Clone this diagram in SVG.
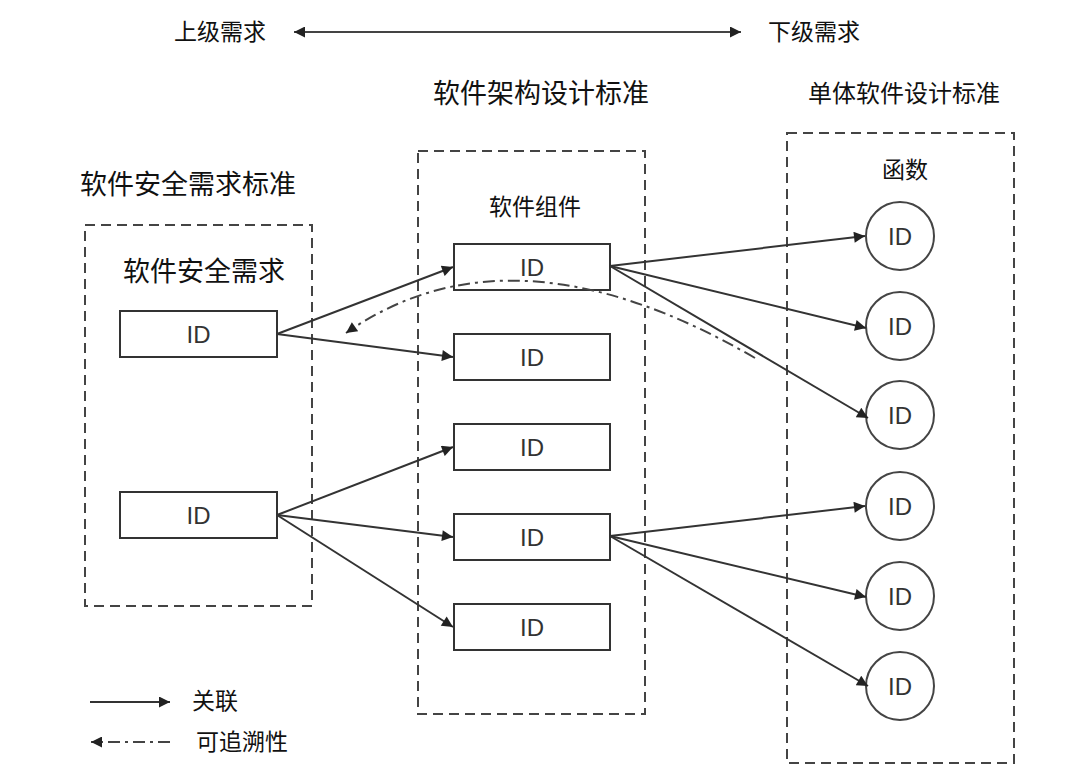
<svg xmlns="http://www.w3.org/2000/svg" width="1080" height="775" viewBox="0 0 1080 775">
<defs>
<style>
.t{font-family:"Noto Sans CJK SC","Liberation Sans",sans-serif;fill:#111;}
.h{font-size:27px;}
.m{font-size:24px;}
.s{font-size:23px;}
.id{font-family:"Liberation Sans",Arial,sans-serif;font-size:24px;fill:#333;text-anchor:middle;}
.box{fill:#fff;stroke:#333;stroke-width:2;}
.circ{fill:#fff;stroke:#444;stroke-width:2;}
.grp{fill:none;stroke:#444;stroke-width:2;stroke-dasharray:10,6;}
.ln{stroke:#333;stroke-width:2;fill:none;marker-end:url(#ah);}
.dd{stroke:#444;stroke-width:2;fill:none;stroke-dasharray:12,5,3,5;}
</style>
<marker id="ah" viewBox="0 0 10 10" refX="10" refY="5" markerWidth="13" markerHeight="11" markerUnits="userSpaceOnUse" orient="auto-start-reverse"><path d="M0,0L10,5L0,10z" fill="#222"/></marker>
</defs>
<rect width="1080" height="775" fill="#fff"/>

<g id="scale">
<text class="t s" x="174" y="40">上级需求</text>
<line x1="294" y1="32" x2="741" y2="32" stroke="#444" stroke-width="2" marker-start="url(#ah)" marker-end="url(#ah)"/>
<text class="t s" x="768" y="40">下级需求</text>
</g>

<g id="group-left">
<text class="t h" x="80" y="194">软件安全需求标准</text>
<rect class="grp" x="85" y="225" width="227" height="381"/>
<text class="t h" x="123" y="281">软件安全需求</text>
</g>
<g id="req1"><rect class="box" x="120" y="311" width="157" height="46"/><text class="id" x="198.5" y="343">ID</text></g>
<g id="req2"><rect class="box" x="120" y="492" width="157" height="46"/><text class="id" x="198.5" y="524">ID</text></g>

<g id="group-mid">
<text class="t h" x="433" y="103">软件架构设计标准</text>
<rect class="grp" x="418" y="151" width="227" height="563"/>
<text class="t s" x="489" y="215">软件组件</text>
</g>
<g id="comp1"><rect class="box" x="454" y="244" width="156" height="46"/><text class="id" x="532" y="276">ID</text></g>
<g id="comp2"><rect class="box" x="454" y="334" width="156" height="46"/><text class="id" x="532" y="366">ID</text></g>
<g id="comp3"><rect class="box" x="454" y="424" width="156" height="46"/><text class="id" x="532" y="456">ID</text></g>
<g id="comp4"><rect class="box" x="454" y="514" width="156" height="46"/><text class="id" x="532" y="546">ID</text></g>
<g id="comp5"><rect class="box" x="454" y="604" width="156" height="46"/><text class="id" x="532" y="636">ID</text></g>

<g id="group-right">
<text class="t m" x="808" y="102">单体软件设计标准</text>
<rect class="grp" x="787" y="133" width="227" height="630"/>
<text class="t s" x="882" y="178">函数</text>
</g>
<g id="fn1"><circle class="circ" cx="900" cy="236" r="34"/><text class="id" x="900" y="245">ID</text></g>
<g id="fn2"><circle class="circ" cx="900" cy="326" r="34"/><text class="id" x="900" y="335">ID</text></g>
<g id="fn3"><circle class="circ" cx="900" cy="415" r="34"/><text class="id" x="900" y="424">ID</text></g>
<g id="fn4"><circle class="circ" cx="900" cy="506" r="34"/><text class="id" x="900" y="515">ID</text></g>
<g id="fn5"><circle class="circ" cx="900" cy="596" r="34"/><text class="id" x="900" y="605">ID</text></g>
<g id="fn6"><circle class="circ" cx="900" cy="686" r="34"/><text class="id" x="900" y="695">ID</text></g>

<g id="connectors">
<line class="ln" x1="277" y1="334" x2="453" y2="267"/>
<line class="ln" x1="277" y1="334" x2="453" y2="357"/>
<line class="ln" x1="277" y1="515" x2="453" y2="447"/>
<line class="ln" x1="277" y1="515" x2="453" y2="537"/>
<line class="ln" x1="277" y1="515" x2="453" y2="627"/>
<line class="ln" x1="610" y1="266" x2="865" y2="236"/>
<line class="ln" x1="610" y1="266" x2="866" y2="328"/>
<line class="ln" x1="610" y1="266" x2="868" y2="418"/>
<line class="ln" x1="610" y1="536" x2="865" y2="506"/>
<line class="ln" x1="610" y1="536" x2="866" y2="597"/>
<line class="ln" x1="610" y1="536" x2="868" y2="686"/>
<path class="dd" d="M755,358 Q512,217 346,333" marker-end="url(#ah)"/>
</g>

<g id="legend">
<line class="ln" x1="90" y1="702" x2="170" y2="702"/>
<text class="t s" x="192" y="709">关联</text>
<line class="dd" x1="170" y1="742" x2="91" y2="742" stroke-dasharray="12,4,3,4" marker-end="url(#ah)"/>
<text class="t s" x="196" y="750">可追溯性</text>
</g>
</svg>
